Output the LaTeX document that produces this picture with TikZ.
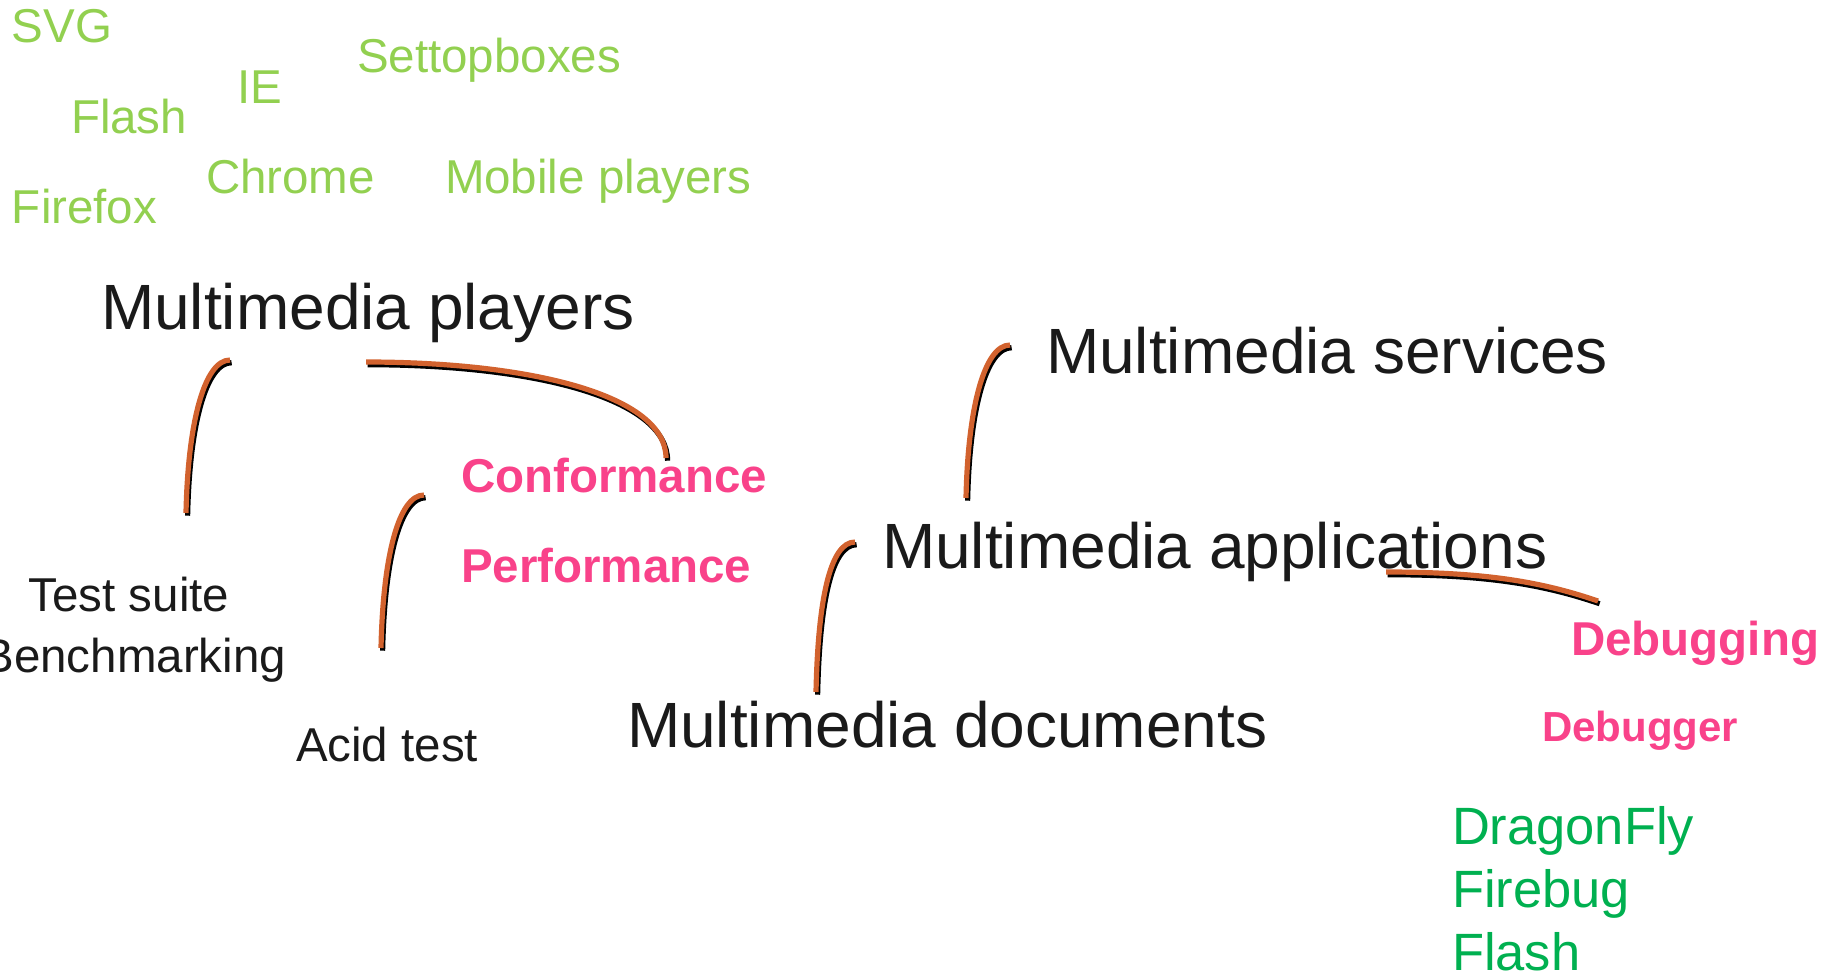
\documentclass[tikz,border=0pt]{standalone}
\usepackage{fontspec}
\setmainfont{Liberation Sans}
\begin{document}
\begin{tikzpicture}[x=1pt,y=-1pt,
  lbl/.style={inner sep=0pt, outer sep=0pt, anchor=base west},
  tool/.style={lbl, text=lightgreen, font=\fontsize{47.5}{57}\selectfont},
  area/.style={lbl, text=inkblack, font=\fontsize{64}{76}\selectfont},
  topic/.style={lbl, text=topicpink, font=\bfseries\fontsize{47.5}{57}\selectfont},
  item/.style={lbl, text=inkblack, font=\fontsize{47.5}{57}\selectfont},
  debugtool/.style={lbl, text=darkgreen, font=\fontsize{52.5}{63}\selectfont},
  link/.style={draw=linkorange, line width=5.2pt,
    preaction={draw=black, line width=5.2pt, transform canvas={shift={(1.6,2.7)}}}}
]
\definecolor{lightgreen}{HTML}{92D050}
\definecolor{darkgreen}{HTML}{00B050}
\definecolor{topicpink}{HTML}{F9428A}
\definecolor{inkblack}{HTML}{1A1A1A}
\definecolor{linkorange}{HTML}{D2622E}
\useasboundingbox (0,0) rectangle (1833,972);

% players and platforms
\node[tool] (svg) at (12,42) {SVG};
\node[tool] (settop) at (357,72) {Settopboxes};
\node[tool] (ie) at (237,103) {IE};
\node[tool] (flashA) at (71,133) {Flash};
\node[tool] (chrome) at (206,193) {Chrome};
\node[tool] (mobile) at (445,193) {Mobile players};
\node[tool] (firefox) at (12,223) {Firefox};

% main areas
\node[area] (players) at (101,329) {Multimedia players};
\node[area] (services) at (1046,373) {Multimedia services};
\node[area] (apps) at (882,568) {Multimedia applications};
\node[area] (docs) at (627,747) {Multimedia documents};

% topics
\node[topic] (conf) at (461,492) {Conformance};
\node[topic] (perf) at (461,582) {Performance};
\node[topic] (debugging) at (1571,655) {Debugging};
\node[lbl, text=topicpink, font=\bfseries\fontsize{42}{50}\selectfont] (debugger) at (1542,741) {Debugger};

% testing items
\node[item, anchor=base] (suite) at (129,611) {Test suite};
\node[item, anchor=base east] (bench) at (286,672) {Benchmarking};
\node[item] (acid) at (296,761) {Acid test};

% debugging tools
\node[debugtool] (dragonfly) at (1452,844) {DragonFly};
\node[debugtool] (firebug) at (1452,907) {Firebug};
\node[debugtool] (flashB) at (1452,970) {Flash};

% connector end points
\coordinate (p1a) at (230,360);
\coordinate (p1b) at (186,513);
\coordinate (p2a) at (366,362);
\coordinate (p2b) at (666,458);
\coordinate (p3a) at (424,495);
\coordinate (p3b) at (381,648);
\coordinate (p4a) at (1010,345);
\coordinate (p4b) at (966,498);
\coordinate (p5a) at (855,542);
\coordinate (p5b) at (816,692);
\coordinate (p6a) at (1386,572);
\coordinate (p6b) at (1598,601);

% connectors
\draw[link] (p1a) .. controls (205,360) and (188,420) .. (p1b);
\draw[link] (p2a) .. controls (530,362) and (666,395) .. (p2b);
\draw[link] (p3a) .. controls (399,495) and (383,555) .. (p3b);
\draw[link] (p4a) .. controls (985,345) and (968,405) .. (p4b);
\draw[link] (p5a) .. controls (830,542) and (818,600) .. (p5b);
\draw[link] (p6a) .. controls (1490,572) and (1545,583) .. (p6b);
\end{tikzpicture}
\end{document}
